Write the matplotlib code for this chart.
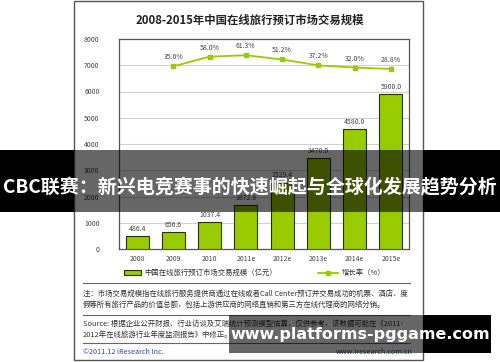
import numpy as np
import matplotlib
matplotlib.use('Agg')
import matplotlib.pyplot as plt
from matplotlib.patches import Rectangle

plt.rcParams['font.family'] = ['Noto Sans CJK SC', 'DejaVu Sans']

# --- data ---
years = ['2008', '2009', '2010', '2011e', '2012e', '2013e', '2014e', '2015e']
market = [486.4, 656.6, 1037.4, 1672.9, 2529.4, 3470.0, 4580.0, 5900.0]
growth_years = ['2009', '2010', '2011e', '2012e', '2013e', '2014e', '2015e']
growth = [35.0, 58.0, 61.3, 51.2, 37.2, 32.0, 28.8]

title = '2008-2015年中国在线旅行预订市场交易规模'
legend_bar = '中国在线旅行预订市场交易规模（亿元）'
legend_line = '增长率（%）'
note = ('注：市场交易规模指在线旅行服务提供商通过在线或者Call Center预订并交易成功的机票、酒店、度\n'
        '假等所有旅行产品的价值总额，包括上游供应商的网络直销和第三方在线代理商的网络分销。')
source = ('Source: 根据企业公开财报、行业访谈及艾瑞统计预测模型估算，仅供参考，该数据可能在《2011-\n'
          '2012年在线旅游行业年度监测报告》中修正。')
banner = 'CBC联赛：新兴电竞赛事的快速崛起与全球化发展趋势分析'
watermark = 'www.platforms-pggame.com'

W, H = 500, 362
green = '#99cc00'
fig = plt.figure(figsize=(W / 100, H / 100), dpi=100)


def fx(x):
    return x / W


def fy(y):
    return 1 - y / H


def box(x0, y0, x1, y1, **kw):
    fig.patches.append(Rectangle((fx(x0), fy(y1)), fx(x1) - fx(x0), fy(y0) - fy(y1),
                                 transform=fig.transFigure, **kw))


def hline(x0, x1, y, **kw):
    fig.lines.append(plt.Line2D([fx(x0), fx(x1)], [fy(y), fy(y)],
                                transform=fig.transFigure, **kw))


# outer frame
box(74, 0.5, 423, 360, facecolor='none', edgecolor='#555555', lw=1.0, zorder=1)

fig.text(fx(250), fy(20), title, ha='center', va='center', fontsize=8.2,
         fontweight='bold', color='#222222')

# main axes
left, right, top, bottom = 119, 409, 39, 249
ax = fig.add_axes([fx(left), fy(bottom), fx(right) - fx(left), fy(top) - fy(bottom)])
x = np.arange(len(years))
ax.bar(x, market, width=0.63, color=green, edgecolor='#2a3300', linewidth=0.8, zorder=3)
for xi, v in zip(x, market):
    ax.text(xi, v + 120, f'{v:.1f}', ha='center', va='bottom', fontsize=5, color='#444444')
ax.set_ylim(0, 8000)
ax.set_xlim(-0.5, len(years) - 0.5)
ax.set_yticks(np.arange(0, 8001, 1000))
ax.set_xticks(x)
ax.set_xticklabels(years)
ax.tick_params(length=0, labelsize=5, colors='#444444', pad=4)
ax.tick_params(axis='y', pad=14)
ax.yaxis.grid(True, color='#d0d0d0', linewidth=0.8)
ax.set_axisbelow(True)
for s in ax.spines.values():
    s.set_color('#555555')
    s.set_linewidth(0.9)

# growth rate on a hidden secondary axis
ax2 = ax.twinx()
ax2.set_ylim(-400, 100)
gx = [years.index(y) for y in growth_years]
ax2.plot(gx, growth, color=green, lw=1.3, marker='s', markersize=3.5, zorder=4)
for xi, g in zip(gx, growth):
    ax2.text(xi, g + 12, f'{g:.1f}%', ha='center', va='bottom', fontsize=5, color='#444444')
ax2.axis('off')

# legend
box(124, 270.5, 141, 274.5, facecolor=green, edgecolor='#2a3300', lw=0.8)
fig.text(fx(144), fy(273), legend_bar, ha='left', va='center', fontsize=5.3, color='#333333')
hline(318, 338, 273, color=green, lw=1.3)
fig.lines.append(plt.Line2D([fx(328)], [fy(273)], transform=fig.transFigure,
                            color=green, marker='s', markersize=3, lw=0))
fig.text(fx(342), fy(273), legend_line, ha='left', va='center', fontsize=5.3, color='#333333')

# separators and notes
for yy in (283, 315, 343):
    hline(83, 410, yy, color='#666666', lw=0.8)
fig.text(fx(83), fy(299), note, ha='left', va='center', fontsize=5.35, color='#333333',
         linespacing=1.5)
fig.text(fx(83), fy(329), source, ha='left', va='center', fontsize=5.35, color='#333333',
         linespacing=1.5)
fig.text(fx(83), fy(352), '©2011.12 iResearch Inc.', ha='left', va='center', fontsize=5.2,
         color='#3344aa')
fig.text(fx(413), fy(352), 'www.iresearch.com.cn', ha='right', va='center', fontsize=5.2,
         color='#3344aa')

# overlaid banner
box(0, 150, 74, 212, facecolor='black', edgecolor='none', zorder=10)
box(423, 150, 500, 212, facecolor='black', edgecolor='none', zorder=10)
box(74, 150, 423, 212, facecolor='black', alpha=0.6, edgecolor='none', zorder=10)
fig.text(fx(250), fy(187), banner, ha='center', va='center', fontsize=13.7,
         fontweight='bold', color='white', zorder=11)

# watermark
box(229, 315, 423, 353, facecolor='black', alpha=0.6, edgecolor='none', zorder=10)
box(423, 315, 491, 353, facecolor='black', edgecolor='none', zorder=10)
fig.text(fx(360), fy(334), watermark, ha='center', va='center', fontsize=11.5,
         fontweight='bold', color='white', family='DejaVu Sans', zorder=11)

fig.savefig('out.png', dpi=100)
